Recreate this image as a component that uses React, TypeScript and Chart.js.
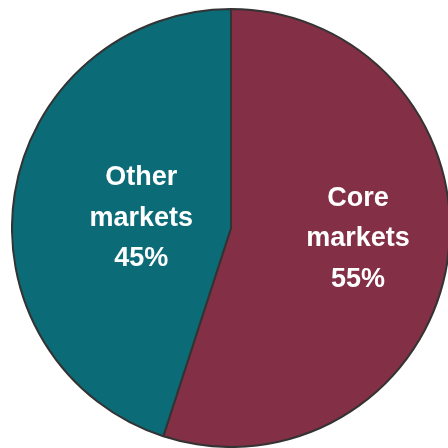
import React, { useEffect, useRef } from "react";
import { Chart, registerables } from "chart.js";

Chart.register(...registerables);

const categories = ["Core markets", "Other markets"];
const shares = [55, 45];
const labelLines = [
  ["Core", "markets", "55%"],
  ["Other", "markets", "45%"],
];
const colors = ["#832F46", "#0B6B77"];
// label centre offsets in units of the pie radius
const labelOffsets = [
  [0.58, 0.05],
  [-0.41, -0.045],
];

const labelPlugin = {
  id: "sliceLabels",
  afterDatasetsDraw(chart: any) {
    const ctx = chart.ctx;
    const meta = chart.getDatasetMeta(0);
    ctx.save();
    ctx.fillStyle = "#ffffff";
    ctx.font = "bold 27px 'Liberation Sans', Arial, sans-serif";
    ctx.textAlign = "center";
    ctx.textBaseline = "middle";
    meta.data.forEach((arc: any, i: number) => {
      const p = arc.getProps(["x", "y", "outerRadius"], true);
      const cx = p.x + labelOffsets[i][0] * p.outerRadius;
      const cy = p.y + labelOffsets[i][1] * p.outerRadius;
      const lines = labelLines[i];
      const lh = 40.5;
      lines.forEach((t, k) => {
        ctx.fillText(t, cx, cy + (k - (lines.length - 1) / 2) * lh);
      });
    });
    ctx.restore();
  },
};

export default function App() {
  const ref = useRef<HTMLCanvasElement>(null);
  useEffect(() => {
    if (!ref.current) return;
    const chart = new Chart(ref.current, {
      type: "pie",
      data: {
        labels: categories,
        datasets: [
          {
            data: shares,
            backgroundColor: colors,
            borderColor: "#333333",
            borderWidth: 2,
          },
        ],
      },
      options: {
        responsive: false,
        animation: false,
        layout: { padding: 0 },
        plugins: {
          legend: { display: false },
          tooltip: { enabled: false },
        },
      },
      plugins: [labelPlugin],
    });
    return () => chart.destroy();
  }, []);
  return (
    <div
      style={{
        position: "fixed",
        left: 0,
        top: 0,
        width: 448,
        height: 448,
        overflow: "hidden",
        background: "#ffffff",
      }}
    >
      <div style={{ position: "absolute", left: 11, top: 8, width: 440, height: 440 }}>
        <canvas ref={ref} width={440} height={440} style={{ display: "block" }} />
      </div>
    </div>
  );
}
